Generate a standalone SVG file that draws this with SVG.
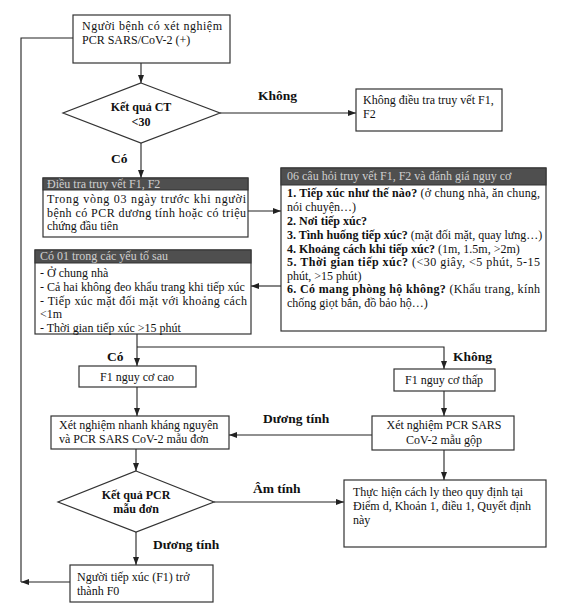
<svg xmlns="http://www.w3.org/2000/svg" width="576" height="611" viewBox="0 0 576 611">
<style>
.box{fill:#fff;stroke:#333;stroke-width:1.2}
.hdr{fill:#4f4f4f;stroke:#333;stroke-width:1}
.t{font-family:"Liberation Serif","Times New Roman",serif;font-size:12px;fill:#111}
.ht{font-family:"Liberation Serif","Times New Roman",serif;font-size:12px;fill:#cfcfcf}
.b{font-weight:bold}
.lbl{font-family:"Liberation Serif","Times New Roman",serif;font-size:13.5px;font-weight:bold;fill:#111}
.dt{font-family:"Liberation Serif","Times New Roman",serif;font-size:12px;font-weight:bold;fill:#111;text-anchor:middle}
.c{text-anchor:middle}
.ln{fill:none;stroke:#222;stroke-width:1.1}
</style>
<defs>
<marker id="ah" markerUnits="userSpaceOnUse" markerWidth="8" markerHeight="6" refX="8" refY="3" orient="auto">
<path d="M0,0 L8,3 L0,6 z" fill="#222"/>
</marker>
</defs>

<g id="connectors">
<path class="ln" d="M141,63 V83" marker-end="url(#ah)"/>
<path class="ln" d="M220,113 H356" marker-end="url(#ah)"/>
<path class="ln" d="M141,143 V178" marker-end="url(#ah)"/>
<path class="ln" d="M248,211 H281" marker-end="url(#ah)"/>
<path class="ln" d="M281,286 H251" marker-end="url(#ah)"/>
<path class="ln" d="M137,334 V366" marker-end="url(#ah)"/>
<path class="ln" d="M137,347 H444 V369" marker-end="url(#ah)"/>
<path class="ln" d="M137,387 V416" marker-end="url(#ah)"/>
<path class="ln" d="M444,391 V416" marker-end="url(#ah)"/>
<path class="ln" d="M372,435 H229" marker-end="url(#ah)"/>
<path class="ln" d="M444,450 V480" marker-end="url(#ah)"/>
<path class="ln" d="M136,449 V471" marker-end="url(#ah)"/>
<path class="ln" d="M214,502 H344" marker-end="url(#ah)"/>
<path class="ln" d="M136,532 V565" marker-end="url(#ah)"/>
<path class="ln" d="M70,582 H21" marker-end="url(#ah)"/>
<path class="ln" d="M21,582 V38 H73"/>
<text class="lbl" x="258" y="100">Không</text>
<text class="lbl" x="111" y="163">Có</text>
<text class="lbl" x="107" y="361">Có</text>
<text class="lbl" x="453" y="361">Không</text>
<text class="lbl" x="263" y="423">Dương tính</text>
<text class="lbl" x="253" y="493">Âm tính</text>
<text class="lbl" x="153" y="549">Dương tính</text>
</g>

<g id="n-start">
<rect class="box" x="73" y="15" width="157" height="48"/>
<text class="t" x="82" y="30" textLength="140" lengthAdjust="spacing">Người bệnh có xét nghiệm</text>
<text class="t" x="82" y="44">PCR SARS/CoV-2 (+)</text>
</g>

<g id="n-ct">
<polygon class="box" points="141,83 220,113 141,143 63,113"/>
<text class="dt" x="141" y="111">Kết quả CT</text>
<text class="dt" x="141" y="126">&lt;30</text>
</g>

<g id="n-khong-dieu-tra">
<rect class="box" x="356" y="89" width="146" height="42"/>
<text class="t" x="363" y="104">Không điều tra truy vết F1,</text>
<text class="t" x="363" y="118">F2</text>
</g>

<g id="n-dieu-tra">
<rect class="box" x="43" y="178" width="205" height="59"/>
<rect class="hdr" x="43" y="178" width="205" height="12"/>
<text class="ht" x="47" y="188">Điều tra truy vết F1, F2</text>
<text class="t" x="47" y="203" textLength="199" lengthAdjust="spacing">Trong vòng 03 ngày trước khi người</text>
<text class="t" x="47" y="216.5" textLength="199" lengthAdjust="spacing">bệnh có PCR dương tính hoặc có triệu</text>
<text class="t" x="47" y="230">chứng đầu tiên</text>
</g>

<g id="n-06-cau-hoi">
<rect class="box" x="281" y="168" width="265" height="163"/>
<rect class="hdr" x="281" y="168" width="265" height="17"/>
<text class="ht" x="287" y="180">06 câu hỏi truy vết F1, F2 và đánh giá nguy cơ</text>
<text class="t" x="287" y="197" textLength="253" lengthAdjust="spacing"><tspan class="b">1. Tiếp xúc như thế nào?</tspan> (ở chung nhà, ăn chung,</text>
<text class="t" x="287" y="211">nói chuyện…)</text>
<text class="t b" x="287" y="225">2. Nơi tiếp xúc?</text>
<text class="t" x="287" y="239"><tspan class="b">3. Tình huống tiếp xúc?</tspan> (mặt đối mặt, quay lưng…)</text>
<text class="t" x="287" y="252.5"><tspan class="b">4. Khoảng cách khi tiếp xúc?</tspan> (1m, 1.5m, &gt;2m)</text>
<text class="t" x="287" y="266" textLength="253" lengthAdjust="spacing"><tspan class="b">5. Thời gian tiếp xúc?</tspan> (&lt;30 giây, &lt;5 phút, 5-15</text>
<text class="t" x="287" y="279.5">phút, &gt;15 phút)</text>
<text class="t" x="287" y="293" textLength="253" lengthAdjust="spacing"><tspan class="b">6. Có mang phòng hộ không?</tspan> (Khẩu trang, kính</text>
<text class="t" x="287" y="307">chống giọt bắn, đồ bảo hộ…)</text>
</g>

<g id="n-co-01">
<rect class="box" x="35" y="250" width="216" height="84"/>
<rect class="hdr" x="35" y="250" width="216" height="13"/>
<text class="ht" x="40" y="260">Có 01 trong các yếu tố sau</text>
<text class="t" x="40" y="277">- Ở chung nhà</text>
<text class="t" x="40" y="290.5">- Cả hai không đeo khẩu trang khi tiếp xúc</text>
<text class="t" x="40" y="304.5" textLength="207" lengthAdjust="spacing">- Tiếp xúc mặt đối mặt với khoảng cách</text>
<text class="t" x="40" y="318">&lt;1m</text>
<text class="t" x="40" y="331.5">- Thời gian tiếp xúc &gt;15 phút</text>
</g>

<g id="n-cao">
<rect class="box" x="79" y="366" width="117" height="21"/>
<text class="t c" x="137" y="381">F1 nguy cơ cao</text>
</g>

<g id="n-thap">
<rect class="box" x="394" y="369" width="101" height="22"/>
<text class="t c" x="444" y="384">F1 nguy cơ thấp</text>
</g>

<g id="n-nhanh">
<rect class="box" x="51" y="416" width="178" height="33"/>
<text class="t" x="59" y="429">Xét nghiệm nhanh kháng nguyên</text>
<text class="t" x="59" y="443">và PCR SARS CoV-2 mẫu đơn</text>
</g>

<g id="n-gop">
<rect class="box" x="372" y="416" width="142" height="34"/>
<text class="t c" x="444" y="429">Xét nghiệm PCR SARS</text>
<text class="t c" x="444" y="444">CoV-2 mẫu gộp</text>
</g>

<g id="n-pcr">
<polygon class="box" points="136,471 214,502 136,532 58,502"/>
<text class="dt" x="136" y="499">Kết quả PCR</text>
<text class="dt" x="136" y="513">mẫu đơn</text>
</g>

<g id="n-cach-ly">
<rect class="box" x="344" y="480" width="202" height="67"/>
<text class="t" x="353" y="496">Thực hiện cách ly theo quy định tại</text>
<text class="t" x="353" y="510">Điểm d, Khoản 1, điều 1, Quyết định</text>
<text class="t" x="353" y="524">này</text>
</g>

<g id="n-f0">
<rect class="box" x="70" y="565" width="143" height="37"/>
<text class="t" x="77" y="581">Người tiếp xúc (F1) trở</text>
<text class="t" x="77" y="595">thành F0</text>
</g>
</svg>
